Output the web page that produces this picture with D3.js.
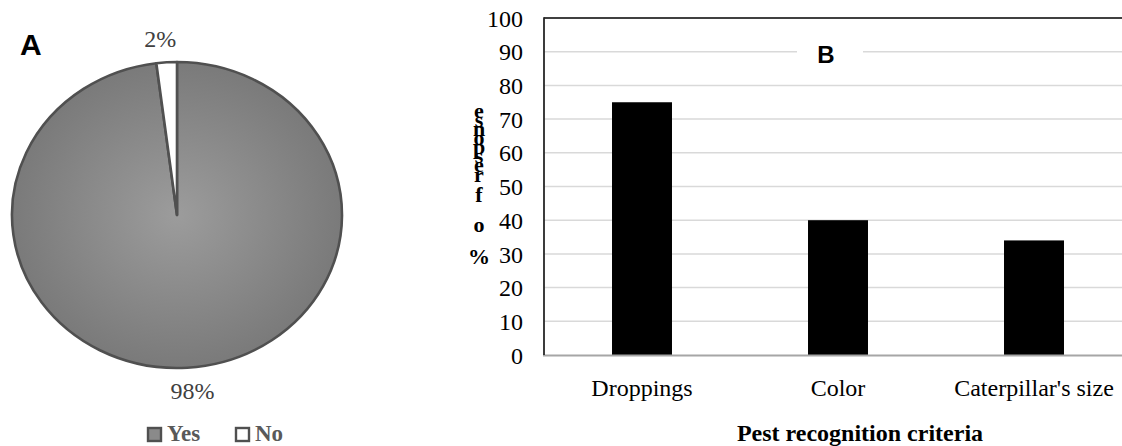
<!DOCTYPE html>
<html>
<head>
<meta charset="utf-8">
<script src="https://cdn.jsdelivr.net/npm/d3@7"></script>
<style>
  html, body { margin: 0; padding: 0; background: #fff; }
  svg { display: block; }
  .serif { font-family: "Liberation Serif", "Times New Roman", Times, "DejaVu Serif", serif; }
  .sans { font-family: "Liberation Sans", Arial, Helvetica, sans-serif; }
</style>
</head>
<body>
<svg id="chart" width="1122" height="446"></svg>
<script>
// ---- Data ----
const pieCategories = ["Yes", "No"];
const pieValues = [98, 2];
const pieLabels = ["98%", "2%"];

const barCategories = ["Droppings", "Color", "Caterpillar's size"];
const barValues = [75, 40, 34];
const yTicks = [0, 10, 20, 30, 40, 50, 60, 70, 80, 90, 100];

const yTitle = "% of response";
const xTitle = "Pest recognition criteria";

// ---- Setup ----
const svg = d3.select("#chart");

const defs = svg.append("defs");
const grad = defs.append("radialGradient").attr("id", "pieGrad")
  .attr("cx", "50%").attr("cy", "50%").attr("r", "50%");
grad.append("stop").attr("offset", "0%").attr("stop-color", "#9c9c9c");
grad.append("stop").attr("offset", "100%").attr("stop-color", "#7a7a7a");

// ---- Pie (A) ----
const cx = 177, cy = 215, rx = 165, ry = 153;
const pie = d3.pie().sort(null).value(d => d);
const arcs = pie(pieValues);
const arc = d3.arc().innerRadius(0).outerRadius(rx);
const labelArc = d3.arc().innerRadius(190).outerRadius(190);
const pieColors = ["url(#pieGrad)", "#ffffff"];

const pieG = svg.append("g").attr("transform", `translate(${cx},${cy})`);
const pieInner = pieG.append("g").attr("transform", `scale(1,${ry / rx})`);
pieInner.selectAll("path").data(arcs).join("path")
  .attr("d", arc)
  .attr("fill", (d, i) => pieColors[i])
  .attr("stroke", "#505050")
  .attr("stroke-width", 2.6)
  .attr("stroke-linejoin", "round")
  .attr("vector-effect", "non-scaling-stroke");

pieG.selectAll("text.plabel").data(arcs).join("text")
  .attr("class", "plabel serif")
  .attr("x", d => labelArc.centroid(d)[0] * (d.index === 0 ? 1.3 : 1.4))
  .attr("y", d => labelArc.centroid(d)[1] * ry / rx)
  .attr("text-anchor", "middle")
  .attr("dominant-baseline", "central")
  .attr("font-size", 24)
  .attr("fill", "#404040")
  .text((d, i) => pieLabels[i]);

svg.append("text").attr("class", "sans").attr("x", 20).attr("y", 55)
  .attr("font-weight", "bold").attr("font-size", 30)
  .attr("fill", "#000").text("A");

// Legend
const legendX = [147, 235];
const legend = svg.append("g");
pieCategories.forEach((c, i) => {
  legend.append("rect")
    .attr("x", legendX[i] + 1).attr("y", 428).attr("width", 13).attr("height", 13)
    .attr("fill", i === 0 ? "#8a8a8a" : "#ffffff")
    .attr("stroke", "#505050").attr("stroke-width", 2.4);
  legend.append("text").attr("class", "serif")
    .attr("x", legendX[i] + 20).attr("y", 441)
    .attr("font-weight", "bold").attr("font-size", 23)
    .attr("fill", "#595959").text(c);
});

// ---- Bar chart (B) ----
const plotL = 544, plotT = 18, plotB = 355, plotR = 1132;
const y = d3.scaleLinear().domain([0, 100]).range([plotB, plotT]);
const x = d3.scaleBand().domain(barCategories).range([plotL, plotR])
  .paddingInner(0.694).paddingOuter(0.347);

// gridlines
svg.append("g").selectAll("line").data(yTicks.filter(t => t > 0 && t < 100)).join("line")
  .attr("x1", plotL).attr("x2", plotR)
  .attr("y1", d => y(d)).attr("y2", d => y(d))
  .attr("stroke", "#d9d9d9").attr("stroke-width", 1.5);

// "B" label with white background over gridline
svg.append("rect").attr("x", 797).attr("y", 40).attr("width", 66).attr("height", 28).attr("fill", "#fff");
svg.append("text").attr("class", "sans").attr("x", 826).attr("y", 63).attr("text-anchor", "middle")
  .attr("font-weight", "bold").attr("font-size", 24)
  .attr("fill", "#000").text("B");

// bars
svg.append("g").selectAll("rect").data(barValues).join("rect")
  .attr("x", (d, i) => x(barCategories[i]))
  .attr("y", d => y(d))
  .attr("width", x.bandwidth())
  .attr("height", d => y(0) - y(d))
  .attr("fill", "#000");

// top border
svg.append("line").attr("x1", plotL).attr("x2", plotR)
  .attr("y1", plotT).attr("y2", plotT)
  .attr("stroke", "#000").attr("stroke-width", 1.5);
// baseline
svg.append("line").attr("x1", plotL - 1).attr("x2", plotR)
  .attr("y1", y(0) + 0.5).attr("y2", y(0) + 0.5)
  .attr("stroke", "#a6a6a6").attr("stroke-width", 2);
// left axis line
svg.append("line").attr("x1", plotL).attr("x2", plotL)
  .attr("y1", plotT - 0.75).attr("y2", plotB)
  .attr("stroke", "#262626").attr("stroke-width", 1.8);

// y axis
const yAxis = svg.append("g").attr("transform", `translate(${plotL},0)`)
  .call(d3.axisLeft(y).tickValues(yTicks).tickSize(0).tickPadding(21));
yAxis.attr("font-family", null).attr("font-size", null);
yAxis.select(".domain").remove();
yAxis.selectAll("text").attr("class", "serif")
  .attr("font-size", 24).attr("fill", "#000")
  .attr("dy", "0.34em");

// x axis
const xAxis = svg.append("g").attr("transform", `translate(0,${plotB})`)
  .call(d3.axisBottom(x).tickSize(0).tickPadding(24));
xAxis.attr("font-family", null).attr("font-size", null);
xAxis.select(".domain").remove();
xAxis.selectAll("text").attr("class", "serif")
  .attr("font-size", 24).attr("fill", "#000");

// x title
svg.append("text").attr("class", "serif").attr("x", 860).attr("y", 441).attr("text-anchor", "middle")
  .attr("font-weight", "bold").attr("font-size", 24)
  .attr("fill", "#000").text(xTitle);

// y title: stacked glyphs (as rendered in original), read bottom-to-top
const chars = Array.from(yTitle).reverse().filter(c => c !== " ");
const charY = [112, 121, 130, 139, 148, 157, 166, 176, 196, 226, 258];
const yt = svg.append("text").attr("class", "serif")
  .attr("font-weight", "bold").attr("font-size", 22)
  .attr("fill", "#000").attr("text-anchor", "middle");
chars.forEach((c, i) => {
  yt.append("tspan").attr("x", 479).attr("y", charY[i] + 6).text(c);
});
</script>
</body>
</html>
